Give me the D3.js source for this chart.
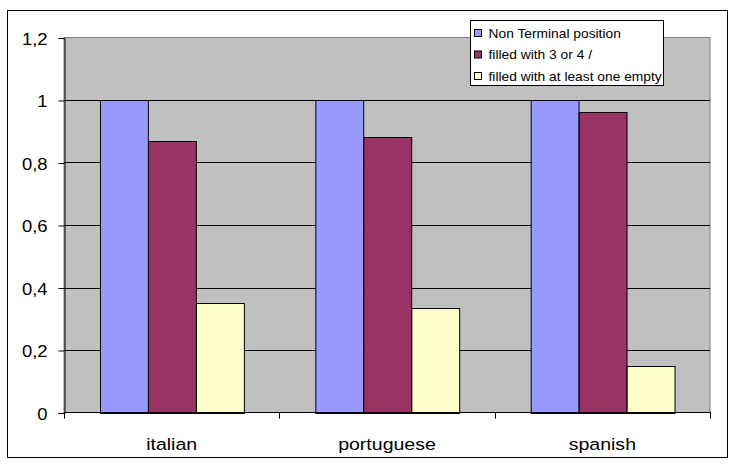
<!DOCTYPE html>
<html>
<head>
<meta charset="utf-8">
<script src="https://cdn.jsdelivr.net/npm/d3@7"></script>
<style>
  html, body { margin: 0; padding: 0; background: #ffffff; }
  svg { display: block; }
  text { font-family: "Liberation Sans", Arial, sans-serif; fill: #000; }
</style>
</head>
<body>
<svg id="chart" width="735" height="464"></svg>
<script>
const categories = ["italian", "portuguese", "spanish"];
const seriesNames = ["Non Terminal position", "filled with 3 or 4 /", "filled with at least one empty"];
const nonTerminal = [1, 1, 1];
const filled3or4 = [0.87, 0.88, 0.96];
const filledEmpty = [0.35, 0.335, 0.15];
const seriesColors = ["#9999FF", "#993366", "#FFFFCC"];
const yTicks = [0, 0.2, 0.4, 0.6, 0.8, 1, 1.2];

const seriesValues = [nonTerminal, filled3or4, filledEmpty];

// text in this chart is drawn slightly widened
const SX = 1.15;
const FONT = "'Liberation Sans', Arial, sans-serif";

const svg = d3.select("#chart");

// outer chart frame
svg.append("rect")
  .attr("x", 7.5).attr("y", 10.5)
  .attr("width", 720).attr("height", 447)
  .attr("fill", "#fff").attr("stroke", "#000").attr("stroke-width", 1);

const plot = { left: 64, right: 710, top: 37.5, bottom: 412.5 };

const x0 = d3.scaleBand()
  .domain(categories)
  .range([plot.left, plot.right])
  .paddingInner(0).paddingOuter(0);

const x1 = d3.scaleBand()
  .domain(d3.range(seriesNames.length))
  .range([0, x0.bandwidth()])
  .paddingOuter(0.75).paddingInner(0);

const y = d3.scaleLinear().domain([0, 1.2]).range([plot.bottom, plot.top]);

// plot background
svg.append("rect")
  .attr("x", plot.left).attr("y", plot.top)
  .attr("width", plot.right - plot.left).attr("height", plot.bottom - plot.top)
  .attr("fill", "#C0C0C0").attr("stroke", "#808080").attr("stroke-width", 1);

// horizontal gridlines
svg.append("g")
  .selectAll("line")
  .data(yTicks.filter(t => t > 0 && t < 1.2))
  .join("line")
  .attr("x1", plot.left).attr("x2", plot.right)
  .attr("y1", d => Math.round(y(d)) + 0.5).attr("y2", d => Math.round(y(d)) + 0.5)
  .attr("stroke", "#000").attr("stroke-width", 1);

// bars
const rows = categories.map((c, i) => ({ cat: c, vals: seriesValues.map(s => s[i]) }));
svg.append("g")
  .selectAll("g")
  .data(rows)
  .join("g")
  .attr("transform", d => `translate(${x0(d.cat)},0)`)
  .selectAll("rect")
  .data(d => d.vals.map((v, k) => ({ v, k })))
  .join("rect")
  .attr("x", d => Math.round(x1(d.k)) + 0.5)
  .attr("y", d => Math.round(y(d.v)) + 0.5)
  .attr("width", x1.bandwidth())
  .attr("height", d => Math.round(y(0)) - Math.round(y(d.v)))
  .attr("fill", d => seriesColors[d.k])
  .attr("stroke", "#000").attr("stroke-width", 1);

// y axis
const yAxis = d3.axisLeft(y)
  .tickValues(yTicks)
  .tickSize(6)
  .tickFormat(d => d3.format("")(d).replace(".", ","));
const gy = svg.append("g")
  .attr("transform", `translate(${plot.left + 0.5},0.5)`)
  .call(yAxis);
gy.select(".domain").attr("stroke", "#000");
gy.selectAll(".tick line").attr("stroke", "#000");
gy.selectAll(".tick text")
  .attr("x", null).attr("dy", null)
  .attr("transform", `translate(-17,6) scale(${SX},1)`)
  .attr("text-anchor", "end")
  .style("font-size", "16px")
  .style("font-family", FONT);

// x axis baseline with category separators
const xg = svg.append("g");
xg.append("line")
  .attr("x1", plot.left).attr("x2", plot.right + 1)
  .attr("y1", plot.bottom).attr("y2", plot.bottom)
  .attr("stroke", "#000").attr("stroke-width", 1);
const boundaries = categories.map(c => x0(c)).concat([x0(categories[categories.length - 1]) + x0.bandwidth()]);
xg.selectAll("line.sep")
  .data(boundaries)
  .join("line")
  .attr("class", "sep")
  .attr("x1", d => Math.round(d) + 0.5).attr("x2", d => Math.round(d) + 0.5)
  .attr("y1", plot.bottom).attr("y2", plot.bottom + 6)
  .attr("stroke", "#000");
xg.selectAll("text")
  .data(categories)
  .join("text")
  .attr("transform", d => `translate(${x0(d) + x0.bandwidth() / 2},450) scale(${SX},1)`)
  .attr("text-anchor", "middle")
  .style("font-size", "17px")
  .style("font-family", FONT)
  .text(d => d);

// legend
const legend = svg.append("g").attr("transform", "translate(470.5,20.5)");
legend.append("rect")
  .attr("width", 193).attr("height", 65)
  .attr("fill", "#fff").attr("stroke", "#000").attr("stroke-width", 1);
const items = legend.selectAll("g.item")
  .data(seriesNames)
  .join("g")
  .attr("class", "item")
  .attr("transform", (d, i) => `translate(0,${13 + i * 21.5})`);
items.append("rect")
  .attr("x", 4).attr("y", -4)
  .attr("width", 7).attr("height", 7)
  .attr("fill", (d, i) => seriesColors[i])
  .attr("stroke", "#000").attr("stroke-width", 1);
items.append("text")
  .attr("transform", `translate(18,4) scale(${SX},1)`)
  .style("font-size", "12px")
  .style("font-family", FONT)
  .text(d => d);
</script>
</body>
</html>
